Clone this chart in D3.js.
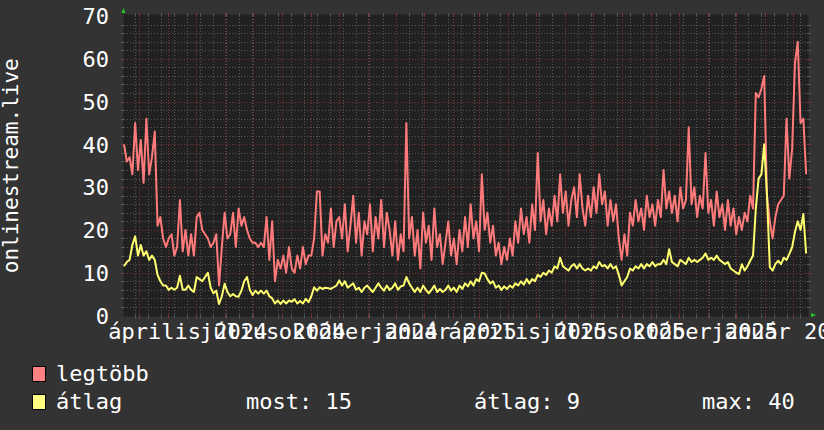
<!DOCTYPE html>
<html><head><meta charset="utf-8">
<script src="https://cdn.jsdelivr.net/npm/d3@7"></script>
<style>html,body{margin:0;padding:0;background:#333333;} svg{display:block}</style>
</head><body>
<svg id="c" width="824" height="430"></svg>
<script>
// ---- data (3-day samples starting 2024-02-13) ----
const startDate = Date.UTC(2024, 1, 13, 14);
const endDate = Date.UTC(2026, 1, 16, 14);
const stepDays = 3;
const seriesMax = [
40,36,37,33,45,34,41,31,46,33,37,43,21,23,18,16,18,19,14,16,
27,15,20,14,19,14,23,24,20,19,18,16,17,19,7,16,24,18,19,24,
16,25,21,23,20,18,17,17,16,17,16,23,13,22,8,13,11,14,10,16,
11,10,14,11,16,12,14,14,18,29,29,14,19,17,25,16,22,23,18,26,
15,21,28,17,24,14,22,19,26,15,23,18,27,16,24,20,14,22,13,19,
15,45,18,23,14,20,11,24,17,21,13,25,16,19,12,17,22,14,18,12,
20,15,23,16,26,18,22,15,33,20,24,17,21,14,17,12,16,13,18,14,
22,17,25,19,23,17,26,20,38,22,27,19,25,21,28,22,33,24,29,21,
27,30,23,33,25,21,28,23,30,24,33,26,29,21,27,22,26,18,13,19,
14,24,21,27,22,25,20,28,23,26,21,27,23,34,25,29,24,28,22,30,
25,27,44,26,30,23,28,25,38,24,27,21,29,23,26,20,27,21,25,19,
23,20,24,22,28,25,52,51,53,56,28,22,18,23,26,27,28,46,32,39,
59,64,45,46,33
];
const seriesAvg = [
11.5,12.5,13,16.5,18.5,14,16.5,14,15,13,14,13,9.5,8,7,7,6,6.5,6,6.5,
9.3,6,6,7,6,5.5,9,8.5,8,9,10,6.5,5.2,5.8,2.7,4.5,7.4,5.5,4.5,5,
4.5,4.4,5.8,8,9,6,4.8,5.8,5.1,5.8,5.1,5.8,4.5,4,2.8,3.5,2.7,3.5,2.8,3.5,
3.2,3.8,2.8,3.4,2.8,3.9,3.1,4.5,6.6,5.8,6.6,6.2,6.5,6.4,6.2,6.6,7,8.2,7,8,
6.5,7,7.5,6,6.5,5.5,6.5,7,6.2,5.5,6.5,7.5,6.5,5.8,7,6,6.5,7.5,6,6.8,
7,9,7.5,6.5,5.5,6.5,5.5,7,6,5.2,6,7,5.5,6.2,5.5,6,7,5.8,6.5,5.5,
7,6.2,7.5,6.8,8,7,8.5,8,10,9.8,8.5,7.5,8,6.5,7,6,6.8,6.2,7,6.5,
7.5,7,8,7.2,8.5,7.5,8.5,8,9.5,9,10,9.5,10.5,10,11.5,11,13.5,11.5,11,10.5,
11.5,12,11,12,11,10.5,11,10.5,11.5,11,12.5,11.5,11.8,11,12,11,11.5,9.5,7,8,
9,11,10.5,11.5,11,12,11,12,11.5,12.5,11.5,12,12,13,12,15.5,12.5,12,11.5,13,
12.5,12,13.5,12.5,13,12.5,13,13.5,14.5,13,13.5,13,14,13,12.5,12,12.5,11,10.5,10,
9.7,12,10.5,11.5,12.8,14,25,32,33,40,28,11.3,10.5,12,12.8,12,13.5,13,14.4,16,
19.5,22,20,23.7,14.5
];
const yTicks = [0, 10, 20, 30, 40, 50, 60, 70];
const monthNames = ["január","február","március","április","május","június","július","augusztus","szeptember","október","november","december"];
const unitLabel = "onlinestream.live";
const legendNames = ["legtöbb", "átlag"];
const statTexts = ["most: 15", "átlag: 9", "max: 40"];

// ---- config ----
const C = {bg:"#333333", canvas:"#212121", red:"#ff7b7b", yellow:"#ffff70",
  grid:"#565656", mgrid:"#7a3434", arrow:"#22cc22", font:"DejaVu Sans Mono"};
const L = 124, R = 808, T = 16, B = 315.5;
const labelOffsetDays = 21;

const svg = d3.select("#c");
svg.append("rect").attr("width",824).attr("height",430).attr("fill",C.bg);

const x = d3.scaleUtc().domain([new Date(startDate), new Date(endDate)]).range([L, R]);
const y = d3.scaleLinear().domain([0, 70]).range([B, T]);

svg.append("rect").attr("x",L-0.5).attr("y",T-1.5).attr("width",R-L+1).attr("height",B-T+2.5).attr("fill",C.canvas);

const g = svg.append("g");
// minor vertical grid (2 weeks)
const minorX = d3.utcSunday.every(2).range(new Date(startDate), new Date(endDate));
const majorX = d3.utcMonth.range(new Date(startDate), new Date(endDate));
const minorY = d3.range(2, 70, 2).filter(v => v % 10 !== 0);
const majorY = yTicks.filter(v => v > 0 && v < 70);

function vline(xx, color, dash){
  g.append("line").attr("x1",xx).attr("x2",xx).attr("y1",T).attr("y2",B)
   .attr("stroke",color).attr("stroke-width",1).attr("stroke-dasharray",dash);
  g.append("line").attr("x1",xx).attr("x2",xx).attr("y1",T-3).attr("y2",T+1).attr("stroke",color);
  g.append("line").attr("x1",xx).attr("x2",xx).attr("y1",B-1).attr("y2",B+3).attr("stroke",color);
}
function hline(yy, color, dash){
  g.append("line").attr("x1",L).attr("x2",R).attr("y1",yy).attr("y2",yy)
   .attr("stroke",color).attr("stroke-width",1).attr("stroke-dasharray",dash);
  g.append("line").attr("x1",L-3).attr("x2",L+1).attr("y1",yy).attr("y2",yy).attr("stroke",color);
  g.append("line").attr("x1",R-1).attr("x2",R+3).attr("y1",yy).attr("y2",yy).attr("stroke",color);
}
minorX.forEach(d => vline(Math.round(x(d))+0.5, C.grid, "1,2"));
minorY.forEach(v => hline(Math.round(y(v))+0.5, C.grid, "1,2"));
majorX.forEach(d => vline(Math.round(x(d))+0.5, C.mgrid, "1,2"));
majorY.forEach(v => hline(Math.round(y(v))+0.5, C.mgrid, "1,2"));

// lines
const pts = arr => arr.map((v, i) => [new Date(startDate + i*stepDays*864e5), v]);
const line = d3.line().x(d => x(d[0])).y(d => y(d[1]));
svg.append("path").attr("d", line(pts(seriesMax))).attr("fill","none")
  .attr("stroke",C.red).attr("stroke-width",2).attr("stroke-linejoin","round");
svg.append("path").attr("d", line(pts(seriesAvg))).attr("fill","none")
  .attr("stroke",C.yellow).attr("stroke-width",2).attr("stroke-linejoin","round");

// arrows
svg.append("path").attr("d", `M${L-2.5},${T-3} L${L+1.5},${T-3} L${L-0.5},${T-8} Z`).attr("fill",C.arrow);
svg.append("path").attr("d", `M${R+3},${B-2.5} L${R+3},${B+1.5} L${R+8},${B-0.5} Z`).attr("fill",C.arrow);

// y labels
svg.append("g").selectAll("text").data(yTicks).join("text")
  .attr("x", 109).attr("y", d => y(d) + 8.3)
  .attr("text-anchor","end").attr("fill","#fff")
  .attr("font-family",C.font).attr("font-size",22).text(d => d);

// x labels
const labelDates = d3.utcMonth.every(3).range(new Date(startDate), new Date(endDate));
svg.append("g").selectAll("text").data(labelDates).join("text")
  .attr("x", d => x(new Date(+d + labelOffsetDays*864e5)))
  .attr("y", 338.5).attr("text-anchor","middle").attr("fill","#fff")
  .attr("font-family",C.font).attr("font-size",22)
  .text(d => monthNames[d.getUTCMonth()] + " " + d.getUTCFullYear());

// unit label
svg.append("text").attr("transform",`translate(18,${(T+B)/2}) rotate(-90)`)
  .attr("text-anchor","middle").attr("fill","#fff")
  .attr("font-family",C.font).attr("font-size",21).text(unitLabel);

// legend
const legColors = [C.red, C.yellow];
legendNames.forEach((n, i) => {
  const yy = 366 + i*28;
  svg.append("rect").attr("x",32.5).attr("y",yy+0.5).attr("width",13).attr("height",15)
    .attr("fill", i===0 ? "#ff8080" : "#ffff80").attr("stroke","#000").attr("stroke-width",1);
  svg.append("text").attr("x",56).attr("y",yy+15).attr("fill","#fff")
    .attr("font-family",C.font).attr("font-size",22).text(n);
});
const statX = [246, 474, 702];
statTexts.forEach((t, i) => {
  svg.append("text").attr("x",statX[i]).attr("y",366+28+15).attr("fill","#fff")
    .attr("font-family",C.font).attr("font-size",22).text(t);
});
</script>
</body></html>
